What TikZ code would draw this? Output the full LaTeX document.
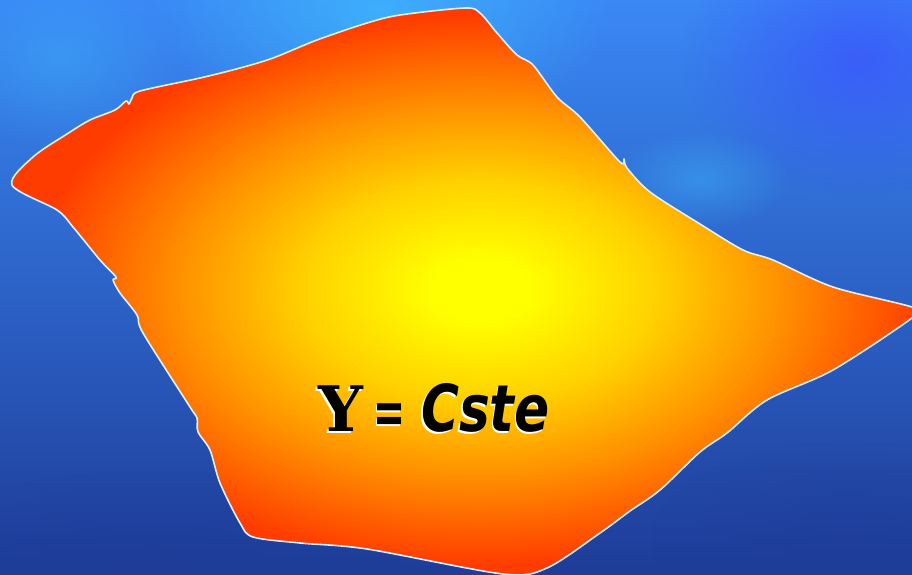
\documentclass[tikz,border=0pt]{standalone}
\usepackage{fontspec}
\usetikzlibrary{fadings}
\newfontfamily\slabfont{DejaVu Serif}
\newfontfamily\comicfont{DejaVu Sans}
\definecolor{bgtop}{HTML}{3A88F5}
\definecolor{bgbot}{HTML}{1E3C98}
\definecolor{spotcyan}{HTML}{40C0FF}
\definecolor{spotviolet}{HTML}{3A50FF}
\definecolor{ylw}{HTML}{FFFF00}
\definecolor{gld}{HTML}{FFD000}
\definecolor{orng}{HTML}{FF9000}
\definecolor{redor}{HTML}{FF3C00}
\definecolor{edge}{HTML}{DDF0FF}
\pgfdeclareradialshading{blobshade}{\pgfpoint{0bp}{0bp}}{color(0bp)=(ylw); color(1.75bp)=(ylw); color(6.4bp)=(gld); color(10.8bp)=(orng); color(16bp)=(redor); color(50bp)=(redor)}
\tikzfading[name=softspot, inner color=transparent!0, outer color=transparent!100]
\tikzset{
  spot/.style={fill=#1, path fading=softspot, fill opacity=0.7},
  outline/.style={draw=edge, line width=1.6bp, line join=round},
  txt/.style={text=black, inner sep=0pt, outer sep=0pt, anchor=base west},
}
\newcommand{\shadowed}[1]{\makebox[0pt][l]{\kern-1.5bp\raisebox{-2bp}{\color{white}#1}}#1}
\newcommand{\blobpath}{plot[smooth cycle, tension=0.5] coordinates {
 (12,185) (33,157) (67,134) (90,120) (115,110) (126,101) (129,104) (132,98) (140,91)
 (200,78) (240,68) (273,58) (317,40) (367,23) (400,15) (465,8) (480,13) (497,33)
 (517,55) (533,65) (557,97) (580,117) (620,162) (624,159) (627,168) (650,192)
 (700,224) (743,250) (773,260) (833,287) (915,308) (912,318) (833,370) (767,400)
 (727,433) (700,452) (660,490) (630,511) (600,533) (547,568) (503,574) (367,549)
 (300,543) (253,537) (240,523) (220,483) (210,450) (198,432) (197,418) (190,407)
 (143,333) (137,315) (120,293) (113,280) (116,277) (100,260) (73,227) (57,210)}}
\begin{document}
\begin{tikzpicture}[x=1bp, y=-1bp]
\useasboundingbox (0,0) rectangle (912,575);
\clip (0,0) rectangle (912,575);
% background
\shade[top color=bgtop, bottom color=bgbot] (0,0) rectangle (912,575);
\fill[spot=spotcyan] (380,10) ellipse (230 and 130);
\fill[spot=spotviolet] (860,60) ellipse (180 and 140);
\fill[spot=spotcyan, fill opacity=0.4] (700,180) ellipse (90 and 50);
\fill[spot=spotcyan, fill opacity=0.35] (60,60) ellipse (120 and 90);
\fill[spot=bgbot, fill opacity=0.6] (150,560) ellipse (250 and 90);
\fill[spot=bgbot, fill opacity=0.5] (850,540) ellipse (200 and 100);
% blob
\begin{scope}
  \clip \blobpath;
  \shade[shading=blobshade] (-220,-140) rectangle (1180,720);
\end{scope}
\draw[outline] \blobpath;
% text with white shadow
\node[txt] (y) at (318,431) {\fontsize{63}{63}\selectfont\slabfont\bfseries\shadowed{Y}};
\node[txt] (eq) at (373,433) {\scalebox{0.62}[1]{\fontsize{62}{62}\selectfont\comicfont\bfseries\shadowed{=}}};
\node[txt] (c) at (421,431) {\scalebox{0.8}[1]{\fontsize{65}{65}\selectfont\comicfont\bfseries\itshape\shadowed{Cste}}};
\end{tikzpicture}
\end{document}
